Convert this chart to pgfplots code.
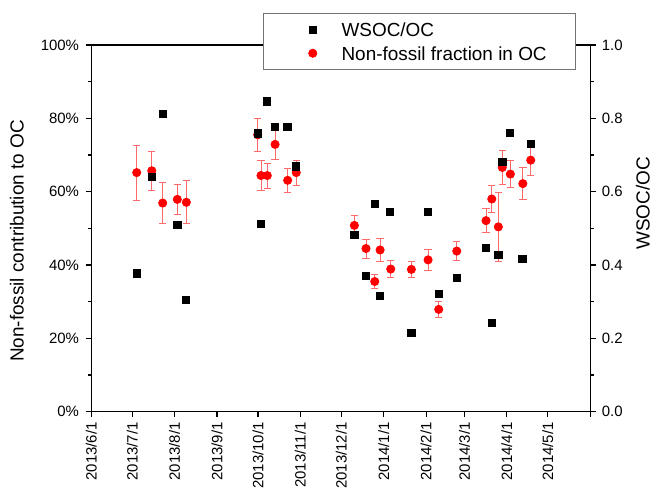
\documentclass[border=0pt]{standalone}
\usepackage{fontspec}
\setmainfont{Liberation Sans}
\usepackage{pgfplots}
\pgfplotsset{compat=1.18}
\usepackage{pgfplotstable}

\pgfplotstableread{
x y e
33.3 65.2 7.5
44.3 65.7 5.4
52.3 56.9 5.6
63.0 57.9 4.2
69.6 57.1 5.9
121.8 75.5 4.6
124.2 64.4 4.1
128.8 64.4 3.4
134.5 72.9 4.1
143.7 63.1 3.3
150.0 65.2 3.4
192.5 50.8 2.6
201.0 44.5 2.6
207.4 35.5 2.0
211.3 44.1 3.2
219.1 38.9 2.3
234.2 38.8 2.1
246.4 41.4 2.9
254.2 27.9 2.2
267.4 43.8 2.5
288.8 52.1 3.2
293.0 58.0 3.6
297.8 50.4 9.4
300.7 66.6 4.7
306.6 64.8 3.7
315.7 62.2 4.4
321.5 68.6 4.3
}\nonfossil

\pgfplotstableread{
x y
33.3 0.377
44.3 0.641
52.3 0.812
63.0 0.509
69.3 0.304
121.8 0.759
124.2 0.513
128.4 0.846
134.5 0.776
143.5 0.776
150.0 0.669
192.5 0.482
201.0 0.371
207.4 0.566
211.3 0.316
218.6 0.545
234.2 0.214
246.2 0.545
254.2 0.321
267.4 0.364
288.8 0.447
293.0 0.243
297.8 0.428
300.7 0.682
306.4 0.761
315.4 0.416
321.5 0.731
}\wsoc

\definecolor{errred}{RGB}{255,105,105}

\begin{document}
\begin{tikzpicture}
\pgfplotsset{
  common/.style={
    at={(91.2bp,80.3bp)}, anchor=south west,
    width=499bp, height=366.7bp, scale only axis,
    xmin=0, xmax=365,
    axis line style={line width=1.1bp, black},
    every tick/.style={line width=1.1bp, black},
    tick align=outside,
    major tick length=5.5bp, minor tick length=3.5bp,
    ticklabel style={font=\fontsize{15}{18}\selectfont},
  }
}
\begin{axis}[common,
  ymin=0, ymax=100,
  ytick={0,20,40,60,80,100},
  yticklabels={0\%,20\%,40\%,60\%,80\%,100\%},
  minor ytick={10,30,50,70,90},
  ytick pos=left, xtick pos=bottom,
  xtick={0,30,61,92,122,153,183,214,245,273,304,334,365},
  xticklabels={2013/6/1,2013/7/1,2013/8/1,2013/9/1,2013/10/1,2013/11/1,2013/12/1,2014/1/1,2014/2/1,2014/3/1,2014/4/1,2014/5/1,},
  xticklabel style={rotate=90, anchor=east, inner sep=0pt},
  xticklabel shift=5bp,
  yticklabel style={anchor=east, inner sep=0pt},
  yticklabel shift=6.5bp,
  ylabel={Non-fossil contribution to OC},
  every axis y label/.style={at={(axis description cs:-0.1347,0.4655)}, rotate=90, anchor=south, inner sep=0pt, font=\fontsize{19}{23}\selectfont},
]
\addplot[only marks, mark=*, mark size=4.1bp, color=red, mark options={fill=red, draw=red, line width=0.8bp},
  error bars/.cd, y dir=both, y explicit,
  error bar style={errred, line width=0.9bp},
  error mark options={errred, rotate=90, mark size=3.7bp, line width=0.9bp}]
  table[x=x, y=y, y error=e] {\nonfossil};
\end{axis}

\begin{axis}[common,
  ymin=0, ymax=1,
  hide x axis,
  axis y line*=right,
  ytick={0,0.2,0.4,0.6,0.8,1.0},
  yticklabels={0.0,0.2,0.4,0.6,0.8,1.0},
  minor ytick={0.1,0.3,0.5,0.7,0.9},
  yticklabel style={anchor=west, inner sep=0pt},
  yticklabel shift=6bp,
  ylabel={WSOC/OC},
  every axis y label/.style={at={(axis description cs:1.1198,0.568)}, rotate=90, anchor=south, inner sep=0pt, font=\fontsize{19}{23}\selectfont},
  legend style={at={(axis description cs:0.345,1.0865)}, anchor=north west,
    draw=black!55, line width=1bp, fill=white,
    inner xsep=29bp, inner ysep=9.2bp, row sep=9.3bp, column sep=22.3bp,
    nodes={inner sep=0pt, text height=14bp, text depth=0pt},
    font=\fontsize{19}{23}\selectfont},
  legend cell align=left,
  legend image code/.code={\path (-19.4bp,0bp) (6bp,0bp); \draw[#1] plot coordinates {(0bp,0bp)};},
]
\addplot[only marks, mark=square*, mark size=3.6bp, color=black, mark options={fill=black, line width=0.8bp}]
  table[x=x, y=y] {\wsoc};
\addlegendentry{WSOC/OC}
\addlegendimage{only marks, mark=*, mark size=4.1bp, color=red, mark options={fill=red, draw=red, line width=0.8bp}}
\addlegendentry{Non-fossil fraction in OC}
\end{axis}
\pgfresetboundingbox
\path[use as bounding box] (0bp,0bp) rectangle (654bp,492bp);
\end{tikzpicture}
\end{document}
